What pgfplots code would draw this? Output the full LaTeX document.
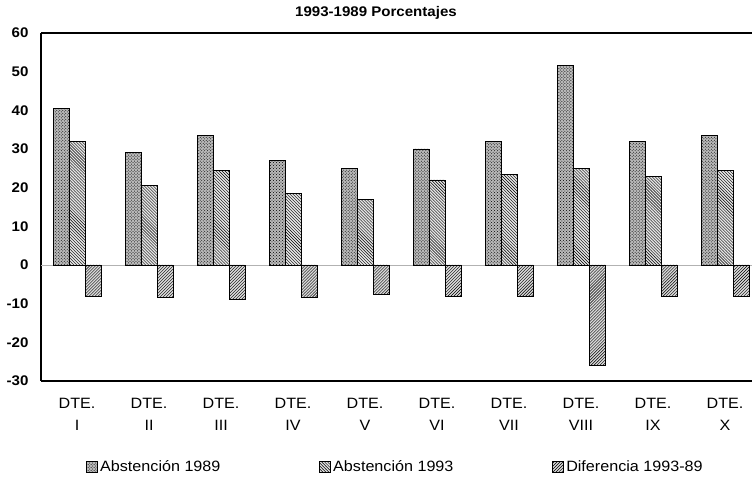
\documentclass[border=0pt]{standalone}
\usepackage{pgfplots}
\pgfplotsset{compat=1.18}
\usepackage{fontspec}
\setmainfont{Liberation Sans}[FakeStretch=1.08]
\usetikzlibrary{patterns}
\begin{document}
\begin{tikzpicture}[x=1bp,y=1bp]
\useasboundingbox (0,0) rectangle (752,484);
\node[font=\bfseries\fontsize{14}{16}\selectfont] at (376,471) {1993-1989 Porcentajes};
\begin{axis}[
  at={(41bp,103bp)}, anchor=south west,
  scale only axis, width=711bp, height=348bp,
  ymin=-30, ymax=60, ytick={-30,-20,...,60},
  xmin=-0.50, xmax=9.375,
  xtick={0,...,9},
  xticklabels={{DTE.\\I},{DTE.\\II},{DTE.\\III},{DTE.\\IV},{DTE.\\V},{DTE.\\VI},{DTE.\\VII},{DTE.\\VIII},{DTE.\\IX},{DTE.\\X}},
  xticklabel style={align=center, font=\fontsize{15}{22}\selectfont, yshift=-14bp},
  yticklabel style={font=\bfseries\fontsize{14}{16}\selectfont, xshift=-9bp},
  /pgf/number format/assume math mode=true,
  major tick length=0pt,
  axis x line*=box, axis y line*=left,
  axis line style={line width=1.5bp},
  extra y ticks={0}, extra y tick labels={},
  extra y tick style={grid=major, major grid style={gray!60, line width=0.6bp}},
  ybar=0pt, bar width=16bp,
  legend columns=3,
  legend style={draw=none, fill=none, at={(0.4986,-0.247)}, anchor=center,
    font=\fontsize{15}{17}\selectfont,
    /tikz/every even column/.append style={column sep=97bp}},
  legend image code/.code={\draw[#1] (0bp,-5.5bp) rectangle (11bp,5.5bp);},
]
\addplot[draw=black, line width=0.8bp, fill=gray!55, postaction={pattern=crosshatch dots}]
  coordinates {(0,40.5) (1,29) (2,33.5) (3,27) (4,25) (5,30) (6,32) (7,51.5) (8,32) (9,33.5)};
\addplot[draw=black, line width=0.8bp, fill=gray!20, postaction={pattern=north west lines}]
  coordinates {(0,32) (1,20.5) (2,24.5) (3,18.5) (4,17) (5,22) (6,23.5) (7,25) (8,23) (9,24.5)};
\addplot[draw=black, line width=0.8bp, fill=gray!30, postaction={pattern=north east lines}]
  coordinates {(0,-8) (1,-8.5) (2,-9) (3,-8.5) (4,-7.5) (5,-8) (6,-8) (7,-26) (8,-8) (9,-8)};
\legend{Abstención 1989, Abstención 1993, Diferencia 1993-89}
\end{axis}
\end{tikzpicture}
\end{document}
